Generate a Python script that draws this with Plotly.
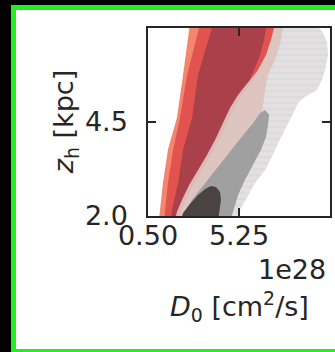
import plotly.graph_objects as go

# Posterior credible regions in the (D0, z_h) plane, D0 in units of 1e28 cm^2/s, z_h in kpc.
# Each region is a closed polygon (D0 values, z_h values).

# red set: outer, middle, inner levels
red_outer_d0 = [1.07, 1.13, 1.28, 1.54, 2.01, 2.33, 2.64, 2.75,
                7.65, 7.55, 7.39, 7.13, 6.76, 6.61, 6.50, 6.45, 6.09, 5.56, 5.04, 4.52, 4.00, 3.48, 2.95, 2.54, 2.28]
red_outer_zh = [1.89, 2.16, 2.88, 3.76, 4.61, 5.75, 7.00, 7.35,
                7.35, 7.00, 6.55, 6.15, 5.75, 5.35, 4.95, 4.74, 4.47, 4.15, 3.84, 3.49, 3.14, 2.82, 2.48, 2.16, 1.89]

red_mid_d0 = [1.34, 1.39, 1.54, 1.81, 2.17, 2.54, 3.16, 3.27,
              7.18, 7.08, 6.92, 6.66, 6.24, 6.03, 5.67, 5.41, 4.99, 4.57, 4.21, 3.79, 3.32, 2.85, 2.48, 2.22, 2.12]
red_mid_zh = [1.89, 2.16, 2.88, 3.76, 4.61, 5.75, 7.00, 7.35,
              7.35, 7.00, 6.68, 6.28, 5.88, 5.62, 5.40, 5.22, 4.87, 4.42, 4.02, 3.62, 3.22, 2.82, 2.43, 2.11, 1.89]

red_inner_d0 = [1.70, 1.75, 2.07, 2.33, 2.80, 3.11, 3.84, 3.95,
                6.66, 6.66, 6.56, 6.35, 6.03, 5.82, 5.46, 5.20, 4.78, 4.36, 4.00, 3.58, 3.11, 2.64, 2.28, 2.01, 1.91]
red_inner_zh = [1.89, 2.16, 2.88, 3.76, 4.61, 5.75, 7.00, 7.35,
                7.35, 7.00, 6.68, 6.28, 5.88, 5.62, 5.40, 5.22, 4.87, 4.42, 4.02, 3.62, 3.22, 2.82, 2.43, 2.11, 1.89]

# grey set: outer, middle, inner levels
grey_outer_d0 = [7.18, 7.08, 6.92, 6.66, 6.24, 5.82, 5.46, 5.20, 4.78, 4.36, 4.00, 3.58, 3.11, 2.64, 2.28, 2.01, 1.91,
                 5.09, 5.30, 5.67, 6.09, 6.61, 6.97, 7.29, 7.65, 7.91, 8.17, 8.33, 8.70, 9.32, 9.58, 9.74, 9.90,
                 9.84, 9.64, 9.37, 9.06, 8.43]
grey_outer_zh = [7.35, 7.00, 6.68, 6.28, 5.88, 5.62, 5.40, 5.22, 4.87, 4.42, 4.02, 3.62, 3.22, 2.82, 2.43, 2.11, 1.89,
                 1.84, 2.16, 2.51, 2.88, 3.22, 3.57, 3.94, 4.29, 4.55, 4.82, 5.01, 5.17, 5.35, 5.62, 5.88, 6.28,
                 6.63, 6.87, 7.03, 7.21, 7.35]

grey_mid_d0 = [6.61, 6.82, 6.76, 6.66, 6.40, 5.98, 5.56, 5.20, 4.94, 4.78,
               2.17, 2.43, 2.80, 3.32, 3.89, 4.42, 4.94, 5.46, 5.98, 6.35]
grey_mid_zh = [4.82, 4.69, 4.42, 4.10, 3.76, 3.36, 2.96, 2.56, 2.16, 1.84,
               1.84, 2.11, 2.43, 2.77, 3.14, 3.49, 3.84, 4.15, 4.47, 4.74]

grey_inner_d0 = [2.17, 2.33, 2.69, 3.11, 3.48, 3.79, 4.05, 4.26, 4.31, 4.26, 4.15]
grey_inner_zh = [1.84, 2.08, 2.32, 2.56, 2.72, 2.80, 2.77, 2.64, 2.43, 2.16, 1.84]

x_ticks = [0.5, 5.25]
x_ticklabels = ["0.50", "5.25"]
y_ticks = [2.0, 4.5]
y_ticklabels = ["2.0", "4.5"]

FONT = "DejaVu Sans"
INK = "#262626"
FS = 27
GREEN = "#22ee22"

fig = go.Figure()


def region(xs, ys, color, pattern=None):
    kw = dict(x=xs + xs[:1], y=ys + ys[:1], mode="lines", fill="toself",
              fillcolor=color, line=dict(width=0), hoverinfo="skip", showlegend=False)
    if pattern is not None:
        kw["fillpattern"] = pattern
    fig.add_trace(go.Scatter(**kw))


region(red_outer_d0, red_outer_zh, "#f3866f")
region(red_mid_d0, red_mid_zh, "#e2534f")
region(red_inner_d0, red_inner_zh, "#a9404a")
region(grey_outer_d0, grey_outer_zh, "rgba(216,216,216,0.78)",
       pattern=dict(shape="-", size=6, solidity=0.2,
                    fgcolor="rgba(195,195,195,0.6)", bgcolor="rgba(218,216,216,0.78)"))
region(grey_mid_d0, grey_mid_zh, "rgba(156,156,156,0.95)")
region(grey_inner_d0, grey_inner_zh, "rgba(72,64,62,0.97)")

axis_common = dict(
    ticks="inside", ticklen=8, tickwidth=1.5, tickcolor=INK,
    showline=True, linecolor=INK, linewidth=1.5, mirror="ticks",
    showgrid=False, zeroline=False,
    tickfont=dict(family=FONT, size=FS, color=INK),
)

fig.update_xaxes(range=[0.5, 10.0], tickmode="array", tickvals=x_ticks, ticktext=x_ticklabels,
                 ticklabelstandoff=-5, **axis_common)
fig.update_yaxes(range=[2.0, 7.0], tickmode="array", tickvals=y_ticks, ticktext=y_ticklabels,
                 ticklabelstandoff=13, **axis_common)

# page frame: black strips at left and top, green border on left, top and bottom
frame = [
    (-1.0, -0.7527, -1.0, 1.2, "black"),        # left black strip
    (-1.0, 1.3, 1.1223, 1.2, "black"),          # top black strip
    (-0.7527, -0.7253, -0.76, 1.1223, GREEN),   # left green edge
    (-0.7527, 1.3, 1.0957, 1.1223, GREEN),      # top green edge
    (-0.7527, 1.3, -0.76, -0.7074, GREEN),      # bottom green edge
]
for x0, x1, y0, y1, c in frame:
    fig.add_shape(type="rect", xref="paper", yref="paper", x0=x0, x1=x1, y0=y0, y1=y1,
                  fillcolor=c, line=dict(width=0), layer="below")

fig.add_annotation(text="<i>z</i><sub>h</sub> [kpc]", textangle=-90, xref="paper", yref="paper",
                   x=-0.455, y=0.5, xanchor="center", yanchor="middle", showarrow=False,
                   font=dict(family=FONT, size=FS, color=INK))
fig.add_annotation(text="1e28", xref="paper", yref="paper", x=0.99, y=-0.282,
                   xanchor="right", yanchor="middle", showarrow=False,
                   font=dict(family=FONT, size=FS, color=INK))
fig.add_annotation(text="<i>D</i><sub>0</sub> [cm<sup>2</sup>/s]", xref="paper", yref="paper",
                   x=0.5, y=-0.479, xanchor="center", yanchor="middle", showarrow=False,
                   font=dict(family=FONT, size=FS, color=INK))

fig.update_layout(
    width=335, height=352,
    margin=dict(l=148, r=5, t=28, b=136, autoexpand=False),
    paper_bgcolor="white", plot_bgcolor="white",
    showlegend=False,
)

fig.write_html("out.html")
